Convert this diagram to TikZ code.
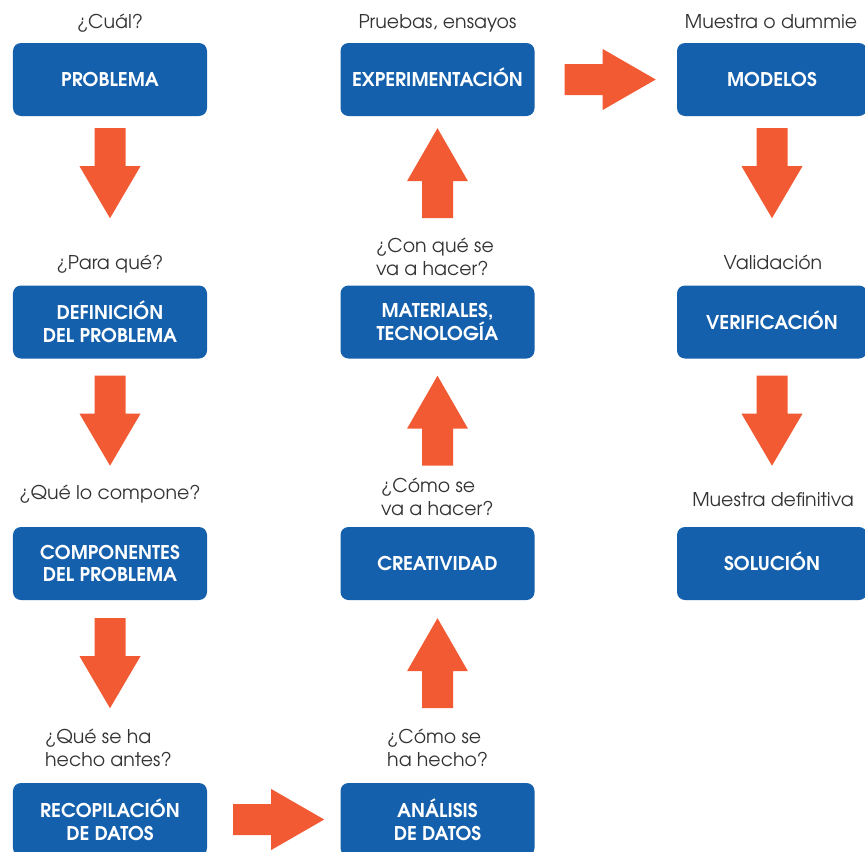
\documentclass[tikz,border=0pt]{standalone}
\usepackage{fontspec}
\setmainfont{TeX Gyre Adventor}
\usetikzlibrary{calc}
\definecolor{boxblue}{HTML}{1560AC}
\definecolor{arroworange}{HTML}{F25A33}
\definecolor{labelgray}{HTML}{333333}
\begin{document}
\begin{tikzpicture}[x=1bp,y=-1bp,
  stepbox/.style={fill=boxblue, rounded corners=8bp, minimum width=194bp, minimum height=73bp,
    inner sep=0pt, text=white, font=\fontsize{19}{23}\selectfont\bfseries, align=center},
  oneline/.style={text height=14bp, text depth=0bp},
  qlabel/.style={text=labelgray, font=\fontsize{19}{24}\selectfont, inner sep=0pt},
  downarr/.pic={\fill[arroworange] (-15.5,0)--(15.5,0)--(15.5,38)--(30.5,38)--(0,90)--(-30.5,38)--(-15.5,38)--cycle;},
  uparr/.pic={\fill[arroworange] (0,0)--(30.5,53)--(15.5,53)--(15.5,90)--(-15.5,90)--(-15.5,53)--(-30.5,53)--cycle;},
  rightarr/.pic={\fill[arroworange] (0,-15.5)--(38,-15.5)--(38,-30.5)--(91,0)--(38,30.5)--(38,15.5)--(0,15.5)--cycle;}
]
\clip (0,0) rectangle (865,852);
% boxes
\node[stepbox, oneline] (prob) at (110,79.5) {PROBLEMA};
\node[stepbox] (def) at (110,322) {DEFINICIÓN\\DEL PROBLEMA};
\node[stepbox] (comp) at (110,563.5) {COMPONENTES\\DEL PROBLEMA};
\node[stepbox] (rec) at (110,819.5) {RECOPILACIÓN\\DE DATOS};
\node[stepbox] (ana) at (437.5,819.5) {ANÁLISIS\\DE DATOS};
\node[stepbox, oneline] (cre) at (437.5,563.5) {CREATIVIDAD};
\node[stepbox] (mat) at (437.5,322) {MATERIALES,\\TECNOLOGÍA};
\node[stepbox, oneline] (exp) at (437.5,79.5) {EXPERIMENTACIÓN};
\node[stepbox, oneline, minimum width=190bp] (mod) at (772,79.5) {MODELOS};
\node[stepbox, oneline, minimum width=190bp] (ver) at (772,322) {VERIFICACIÓN};
\node[stepbox, oneline, minimum width=190bp] (sol) at (772,563.5) {SOLUCIÓN};
% labels
\node[qlabel, anchor=base] (q1) at (110,28) {¿Cuál?};
\node[qlabel, anchor=base] (q2) at (110,269) {¿Para qué?};
\node[qlabel, anchor=base] (q3) at (110,499) {¿Qué lo compone?};
\node[qlabel, anchor=base west] (q4) at (45,743) {\begin{tabular}[t]{@{}l@{}}¿Qué se ha\\hecho antes?\end{tabular}};
\node[qlabel, anchor=base west] (q5) at (387,743) {\begin{tabular}[t]{@{}l@{}}¿Cómo se\\ha hecho?\end{tabular}};
\node[qlabel, anchor=base west] (q6) at (381,492) {\begin{tabular}[t]{@{}l@{}}¿Cómo se\\va a hacer?\end{tabular}};
\node[qlabel, anchor=base west] (q7) at (376,252) {\begin{tabular}[t]{@{}l@{}}¿Con qué se\\va a hacer?\end{tabular}};
\node[qlabel, anchor=base] (q8) at (437.5,28) {Pruebas, ensayos};
\node[qlabel, anchor=base] (q9) at (771,28) {Muestra o dummie};
\node[qlabel, anchor=base] (q10) at (773,269) {Validación};
\node[qlabel, anchor=base] (q11) at (773,506) {Muestra definitiva};
% arrows
\pic at ($(prob.south)+(0,12)$) {downarr};
\pic at ($(def.south)+(0,17)$) {downarr};
\pic at ($(comp.south)+(0,18)$) {downarr};
\pic at ($(mod.south)+(0,12)$) {downarr};
\pic at ($(ver.south)+(0,17)$) {downarr};
\pic at ($(exp.south)+(0,12)$) {uparr};
\pic at ($(mat.south)+(0,17)$) {uparr};
\pic at ($(cre.south)+(0,18)$) {uparr};
\pic at ($(rec.east)+(26,0)$) {rightarr};
\pic at ($(exp.east)+(30,0)$) {rightarr};
\end{tikzpicture}
\end{document}
